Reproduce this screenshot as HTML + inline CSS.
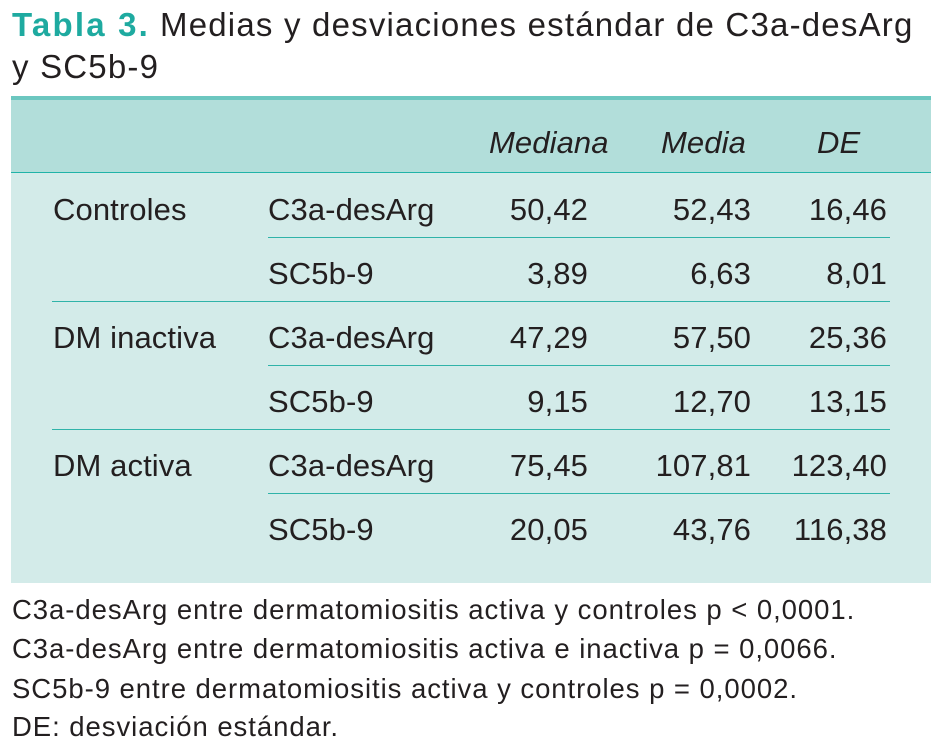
<!DOCTYPE html>
<html><head><meta charset="utf-8"><style>
body{margin:0;width:935px;height:746px;background:#fff;font-family:"Liberation Sans",Arial,sans-serif;color:#231f20;position:relative;overflow:hidden}
.a{position:absolute;white-space:nowrap}
.t{font-size:33px;line-height:1;letter-spacing:1.2px}
.c{font-size:31px;line-height:1;letter-spacing:0.1px}
.r{text-align:right}
.ln{position:absolute;height:1px;background:#2fb3a9}
.f{font-size:27.5px;line-height:1;left:12px;letter-spacing:0.95px}
</style></head><body>
<div class="a t" style="left:12px;top:8px;color:#1eaaa0;font-weight:bold;letter-spacing:2.2px">Tabla 3.</div>
<div class="a t" style="left:160px;top:8px">Medias y desviaciones estándar de C3a-desArg</div>
<div class="a t" style="left:12px;top:50px">y SC5b-9</div>
<div class="a" style="left:11px;top:96px;width:920px;height:4px;background:#6cc7c0"></div>
<div class="a" style="left:11px;top:100px;width:920px;height:72px;background:#b2deda"></div>
<div class="a" style="left:11px;top:172px;width:920px;height:1px;background:#20b3a8"></div>
<div class="a" style="left:11px;top:173px;width:920px;height:410px;background:#d3ebe9"></div>
<div class="a c" style="left:489px;top:127px;font-style:italic">Mediana</div>
<div class="a c" style="left:661px;top:127px;font-style:italic">Media</div>
<div class="a c" style="left:817px;top:127px;font-style:italic">DE</div>
<div id="rows"></div>
<div class="a f" style="top:596px">C3a-desArg entre dermatomiositis activa y controles p &lt; 0,0001.</div>
<div class="a f" style="top:635px">C3a-desArg entre dermatomiositis activa e inactiva p = 0,0066.</div>
<div class="a f" style="top:675px">SC5b-9 entre dermatomiositis activa y controles p = 0,0002.</div>
<div class="a f" style="top:713px">DE: desviación estándar.</div>
<script>
const groups=["Controles","DM inactiva","DM activa"];
const markers=["C3a-desArg","SC5b-9"];
const medianas=["50,42","3,89","47,29","9,15","75,45","20,05"];
const medias=["52,43","6,63","57,50","12,70","107,81","43,76"];
const des=["16,46","8,01","25,36","13,15","123,40","116,38"];
const root=document.getElementById('rows');
function add(txt,x,y,w,right,name){const d=document.createElement('div');d.className='a c'+(right?' r':'');d.style.left=x+'px';d.style.top=y+'px';if(w)d.style.width=w+'px';d.textContent=txt;


root.appendChild(d);}
function line(x,y,w,name){const d=document.createElement('div');d.className='ln';d.style.left=x+'px';d.style.top=y+'px';d.style.width=w+'px';


root.appendChild(d);}
for(let i=0;i<6;i++){
 const y=194+i*64;
 if(i%2===0)add(groups[i/2],53,y,0,false,'group-label');
 add(markers[i%2],268,y,0,false,'marker-label');
 add(medianas[i],440,y,148,true,'mediana-cell');
 add(medias[i],600,y,151,true,'media-cell');
 add(des[i],760,y,127,true,'de-cell');
 if(i<5){ if(i%2===0)line(268,237+i*64,622,'row-separator'); else line(52,237+i*64,838,'group-separator'); }
}
</script>
</body></html>
